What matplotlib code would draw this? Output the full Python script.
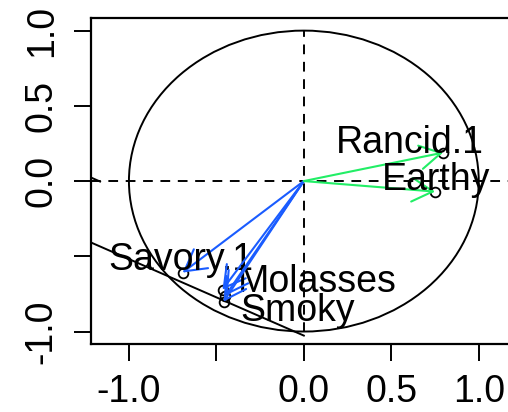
import numpy as np
import matplotlib
matplotlib.use("Agg")
import matplotlib.pyplot as plt
from matplotlib.patches import Circle

plt.rcParams["font.family"] = ["Liberation Sans", "DejaVu Sans"]
plt.rcParams["lines.scale_dashes"] = False

# variable loadings (x = dim 1, y = dim 2)
labels = ["Savory.1", "Molasses", "", "Smoky", "Rancid.1", "Earthy"]
load_x = [-0.693, -0.465, -0.448, -0.459, 0.796, 0.750]
load_y = [-0.608, -0.721, -0.761, -0.801, 0.189, -0.070]
groups = ["blue", "blue", "blue", "blue", "green", "green"]

# straight black lines (clipped at the left edge)
line_x = [-1.30, 0.0]
line_y = [-0.366, -1.027]
seg_x = [-1.30, -1.165]
seg_y = [0.066, -0.003]

xticks = [-1.0, -0.5, 0.0, 0.5, 1.0]
xticklabels = ["-1.0", "", "0.0", "0.5", "1.0"]
yticks = [-1.0, -0.5, 0.0, 0.5, 1.0]
yticklabels = ["-1.0", "", "0.0", "0.5", "1.0"]

colors = {"blue": "#1a5cff", "green": "#22ee66"}
# label offsets in points (dx, dy) from each point, centred text on baseline
label_off = [(-1, 2), (68, -2), (0, 0), (53, -14), (-24, 0), (1, 1)]

fig = plt.figure(figsize=(5.08, 4.12), dpi=100)
ax = fig.add_axes([0.1791, 0.165, 0.838, 0.791])
ax.set_xlim(-1.217, 1.217)
ax.set_ylim(-1.083, 1.083)

# unit circle and reference axes
ax.add_patch(Circle((0, 0), 1.0, fill=False, edgecolor="black", lw=1.4))
ax.axhline(0, color="black", lw=1.4, ls=(0, (7, 5.5)))
ax.plot([0, 0], [-1, 1], color="black", lw=1.4, ls=(0, (7, 5.5)))

ax.plot(line_x, line_y, color="black", lw=1.4)
ax.plot(seg_x, seg_y, color="black", lw=1.4)

for lab, x, y, g, off in zip(labels, load_x, load_y, groups, label_off):
    ax.annotate("", xy=(x, y), xytext=(0, 0),
                arrowprops=dict(arrowstyle="->,head_length=1.5,head_width=0.85",
                                color=colors[g], lw=1.5, mutation_scale=10,
                                shrinkA=0, shrinkB=0))
    ax.plot(x, y, marker="o", ms=7, mfc="none", mec="black", mew=1.3)
    if lab:
        ax.annotate(lab, xy=(x, y), xytext=off, textcoords="offset points",
                    ha="center", va="baseline", fontsize=27, color="black")

ax.set_xticks(xticks)
ax.set_xticklabels(xticklabels)
ax.set_yticks(yticks)
ax.set_yticklabels(yticklabels, rotation=90, va="center")
ax.tick_params(axis="both", length=12.5, width=1.4, labelsize=27, direction="out")
ax.tick_params(axis="x", pad=9)
ax.tick_params(axis="y", pad=10)
for s in ax.spines.values():
    s.set_linewidth(1.6)

fig.savefig("out.png", dpi=100)
